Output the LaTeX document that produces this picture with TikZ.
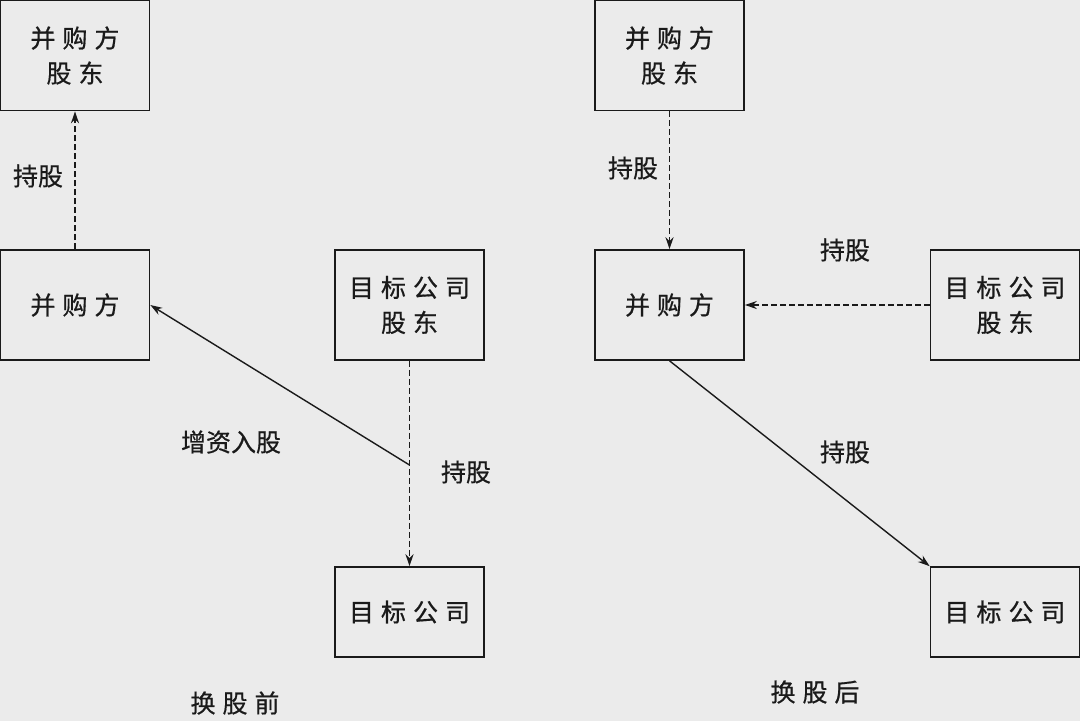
\documentclass[tikz,border=0pt]{standalone}
\usepackage{fontspec}
\newfontfamily\cjk[FakeBold=0.6]{Noto Sans CJK SC}
\usetikzlibrary{arrows.meta}
\definecolor{bg}{HTML}{EBEBEB}
\definecolor{ink}{HTML}{1A1A1A}
\tikzset{
  box/.style={draw=ink, line width=1.6pt, fill=bg, minimum width=149pt, minimum height=110pt, inner sep=0pt, align=center, text=ink, font=\cjk\fontsize{25}{35}\selectfont},
  boxs/.style={box, minimum height=90pt},
  lbl/.style={font=\cjk\fontsize{25}{28}\selectfont, text=ink, inner sep=0pt},
  dline/.style={draw=ink, line width=1.4pt, dash pattern=on 6pt off 3pt, -{Stealth[length=12pt,width=8pt]}},
  sline/.style={draw=ink, line width=1.4pt, -{Stealth[length=12pt,width=8pt]}}
}
\newcommand{\cgap}{\hspace{7pt}}
\begin{document}
\begin{tikzpicture}[x=1pt,y=-1pt]
\fill[bg] (0,0) rectangle (1080,721);
\useasboundingbox (0,0) rectangle (1080,721);
% left
\node[box] (A) at (75,55.5) {并\cgap 购\cgap 方\\股\cgap 东};
\node[box] (B) at (75,305) {并\cgap 购\cgap 方};
\node[box] (C) at (409.5,305) {目\cgap 标\cgap 公\cgap 司\\股\cgap 东};
\node[boxs] (D) at (409.5,612) {目\cgap 标\cgap 公\cgap 司};
\draw[dline] (B.north) -- (A.south);
\draw[dline] (C.south) -- (D.north);
\coordinate (j) at (409.5,465);
\draw[sline] (j) -- (B.east);
\node[lbl] (l1) at (38,176) {持股};
\node[lbl] (l2) at (231,442) {增资入股};
\node[lbl] (l3) at (466,472) {持股};
\node[lbl] (t1) at (235,703) {换\cgap 股\cgap 前};
% right
\node[box] (E) at (669.5,55.5) {并\cgap 购\cgap 方\\股\cgap 东};
\node[box] (F) at (669.5,305) {并\cgap 购\cgap 方};
\node[box] (G) at (1005,305) {目\cgap 标\cgap 公\cgap 司\\股\cgap 东};
\node[boxs] (H) at (1005,612) {目\cgap 标\cgap 公\cgap 司};
\draw[dline] (E.south) -- (F.north);
\draw[dline] (G.west) -- (F.east);
\draw[sline] (F.south) -- (H.north west);
\node[lbl] (l4) at (633,168) {持股};
\node[lbl] (l5) at (845,250) {持股};
\node[lbl] (l6) at (845,452) {持股};
\node[lbl] (t2) at (815,692) {换\cgap 股\cgap 后};
\end{tikzpicture}
\end{document}
